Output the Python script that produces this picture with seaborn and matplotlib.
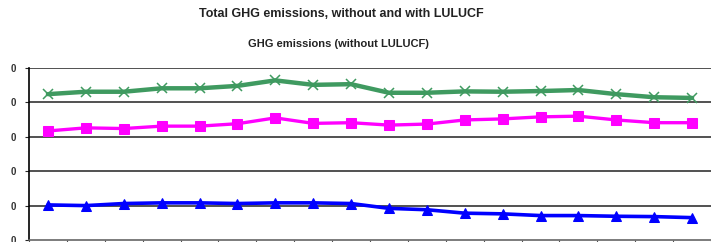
import matplotlib
matplotlib.use("Agg")
import matplotlib.pyplot as plt
import seaborn as sns
import numpy as np
import pandas as pd

# Data (in gridline units; axis labels are cropped)
years = list(range(1990, 2008))
without_lulucf = [4.24, 4.31, 4.31, 4.41, 4.41, 4.48, 4.64, 4.51, 4.53,
                  4.28, 4.28, 4.32, 4.31, 4.33, 4.36, 4.24, 4.15, 4.13]
with_lulucf = [3.17, 3.26, 3.24, 3.31, 3.31, 3.38, 3.55, 3.39, 3.41,
               3.34, 3.37, 3.49, 3.52, 3.58, 3.60, 3.49, 3.41, 3.41]
lulucf_low = [1.02, 1.00, 1.06, 1.08, 1.08, 1.06, 1.08, 1.08, 1.06,
              0.92, 0.88, 0.78, 0.76, 0.71, 0.71, 0.69, 0.68, 0.65]
y_ticks = [0, 1, 2, 3, 4, 5]
y_tick_labels = ["0", "0", "0", "0", "0", "0"]

sns.set_theme(style="white")
plt.rcParams['font.family'] = ['Liberation Sans', 'DejaVu Sans']

fig = plt.figure(figsize=(7.11, 2.42), dpi=100)
ax = fig.add_axes([29 / 711, 2 / 242, 1 - 29 / 711, 172 / 242])

sns.lineplot(x=years, y=without_lulucf, ax=ax, color="#3f9a60", lw=3.2,
             marker="x", markersize=7, markeredgewidth=1.1,
             markeredgecolor="#3f9a60", zorder=4)
sns.lineplot(x=years, y=with_lulucf, ax=ax, color="#ff00ff", lw=2.4,
             marker="s", markersize=6.5, markeredgecolor="#ff00ff", zorder=4)
sns.lineplot(x=years, y=lulucf_low, ax=ax, color="#0000ff", lw=2.6,
             marker="^", markersize=7.5, markeredgecolor="#0000ff", zorder=4)

ax.set_xlim(years[0] - 0.5, years[-1] + 0.5)
ax.set_ylim(0, 5)
ax.set_yticks(y_ticks)
ax.set_yticklabels(y_tick_labels, fontsize=7, fontweight="bold", color="#333333")
ax.set_xticks(np.arange(years[0] - 0.5, years[-1] + 1, 1))
ax.set_xticklabels([])
ax.tick_params(axis="x", bottom=True, length=3, width=0.8, color="#555555")
ax.tick_params(axis="y", left=True, length=3, width=0.8, pad=6)

for v in y_ticks[1:]:
    ax.axhline(v, color="#333333", lw=1.2, zorder=1)

for s in ["top", "right"]:
    ax.spines[s].set_visible(False)
ax.spines["left"].set_color("black")
ax.spines["left"].set_linewidth(1.2)
ax.spines["bottom"].set_color("#666666")
ax.spines["bottom"].set_linewidth(1.2)

fig.text(341 / 711, 1 - 14 / 242, "Total GHG emissions, without and with LULUCF",
         ha="center", va="center", fontsize=9, fontweight="bold", color="#222222")
fig.text(338 / 711, 1 - 44 / 242, "GHG emissions (without LULUCF)",
         ha="center", va="center", fontsize=8, fontweight="bold", color="#222222")

fig.savefig("out.png", dpi=100)
